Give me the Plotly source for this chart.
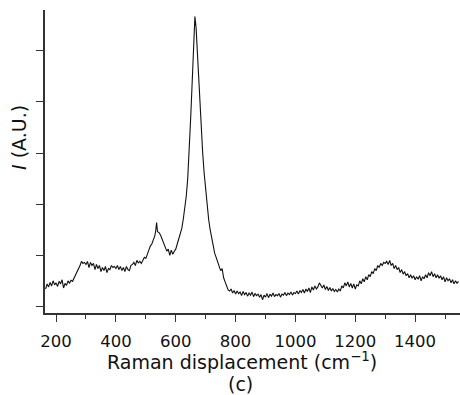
import plotly.graph_objects as go

raman_shift = [
    165, 170, 175, 180, 185, 190, 195, 200, 205, 210, 215, 220, 225, 230, 235, 240,
    245, 250, 255, 260, 265, 270, 275, 280, 285, 290, 295, 300, 305, 310, 315, 320,
    325, 330, 335, 340, 345, 350, 355, 360, 365, 370, 375, 380, 385, 390, 395, 400,
    405, 410, 415, 420, 425, 430, 435, 440, 445, 450, 455, 460, 465, 470, 475, 480,
    485, 490, 495, 500, 505, 510, 515, 520, 525, 530, 533, 536, 539, 545, 550, 555,
    560, 565, 570, 575, 580, 585, 590, 595, 600, 605, 610, 615, 620, 625, 630, 635,
    640, 645, 650, 655, 660, 664, 668, 672, 676, 680, 685, 690, 695, 700, 705, 710,
    715, 720, 725, 730, 735, 740, 745, 750, 755, 760, 765, 770, 775, 780, 785, 790,
    795, 800, 805, 810, 815, 820, 825, 830, 835, 840, 845, 850, 855, 860, 865, 870,
    875, 880, 885, 890, 895, 900, 905, 910, 915, 920, 925, 930, 935, 940, 945, 950,
    955, 960, 965, 970, 975, 980, 985, 990, 995, 1000, 1005, 1010, 1015, 1020, 1025, 1030,
    1035, 1040, 1045, 1050, 1055, 1060, 1065, 1070, 1075, 1080, 1085, 1090, 1095, 1100, 1105, 1110,
    1115, 1120, 1125, 1130, 1135, 1140, 1145, 1150, 1155, 1160, 1165, 1170, 1175, 1180, 1185, 1190,
    1195, 1200, 1205, 1210, 1215, 1220, 1225, 1230, 1235, 1240, 1245, 1250, 1255, 1260, 1265, 1270,
    1275, 1280, 1285, 1290, 1295, 1300, 1305, 1310, 1315, 1320, 1325, 1330, 1335, 1340, 1345, 1350,
    1355, 1360, 1365, 1370, 1375, 1380, 1385, 1390, 1395, 1400, 1405, 1410, 1415, 1420, 1425, 1430,
    1435, 1440, 1445, 1450, 1455, 1460, 1465, 1470, 1475, 1480, 1485, 1490, 1495, 1500, 1505, 1510,
    1515, 1520, 1525, 1530, 1535, 1540, 1545,
]
intensity = [
    0.34, 0.44, 0.38, 0.47, 0.40, 0.50, 0.42, 0.46, 0.39, 0.49, 0.44, 0.52, 0.36, 0.45, 0.41, 0.50,
    0.45, 0.51, 0.49, 0.55, 0.60, 0.66, 0.72, 0.80, 0.88, 0.84, 0.86, 0.82, 0.88, 0.76, 0.86, 0.80,
    0.84, 0.72, 0.82, 0.74, 0.80, 0.68, 0.76, 0.70, 0.78, 0.66, 0.74, 0.72, 0.80, 0.76, 0.78, 0.74,
    0.80, 0.72, 0.78, 0.70, 0.76, 0.68, 0.78, 0.72, 0.70, 0.80, 0.82, 0.86, 0.80, 0.90, 0.85, 0.88,
    0.84, 0.92, 0.96, 0.94, 1.04, 1.10, 1.18, 1.22, 1.30, 1.38, 1.48, 1.64, 1.46, 1.44, 1.38, 1.30,
    1.22, 1.14, 1.08, 1.12, 1.00, 1.10, 1.02, 1.08, 1.12, 1.22, 1.32, 1.42, 1.52, 1.70, 1.90, 2.15,
    2.50, 3.00, 3.70, 4.40, 5.10, 5.67, 5.45, 5.00, 4.40, 3.90, 3.40, 3.00, 2.60, 2.25, 1.95, 1.70,
    1.50, 1.32, 1.16, 1.04, 0.96, 0.88, 0.80, 0.70, 0.74, 0.56, 0.48, 0.40, 0.32, 0.30, 0.34, 0.26,
    0.31, 0.24, 0.30, 0.25, 0.28, 0.21, 0.29, 0.23, 0.27, 0.20, 0.26, 0.22, 0.28, 0.19, 0.25, 0.21,
    0.24, 0.18, 0.23, 0.13, 0.22, 0.18, 0.25, 0.17, 0.24, 0.20, 0.26, 0.19, 0.23, 0.21, 0.25, 0.18,
    0.24, 0.22, 0.27, 0.21, 0.26, 0.23, 0.28, 0.22, 0.27, 0.25, 0.30, 0.24, 0.31, 0.27, 0.33, 0.26,
    0.34, 0.29, 0.36, 0.27, 0.38, 0.32, 0.40, 0.34, 0.38, 0.46, 0.40, 0.36, 0.42, 0.33, 0.39, 0.31,
    0.37, 0.30, 0.35, 0.29, 0.33, 0.28, 0.34, 0.30, 0.40, 0.36, 0.46, 0.40, 0.48, 0.38, 0.45, 0.36,
    0.44, 0.34, 0.42, 0.40, 0.50, 0.44, 0.54, 0.48, 0.58, 0.52, 0.62, 0.58, 0.68, 0.64, 0.74, 0.70,
    0.80, 0.76, 0.84, 0.80, 0.86, 0.84, 0.88, 0.82, 0.90, 0.80, 0.84, 0.74, 0.80, 0.72, 0.76, 0.66,
    0.72, 0.63, 0.68, 0.60, 0.64, 0.56, 0.62, 0.55, 0.60, 0.52, 0.58, 0.53, 0.60, 0.50, 0.58, 0.54,
    0.62, 0.56, 0.66, 0.60, 0.68, 0.58, 0.64, 0.56, 0.62, 0.55, 0.60, 0.52, 0.58, 0.48, 0.56, 0.50,
    0.54, 0.46, 0.52, 0.44, 0.50, 0.45, 0.49,
]

x_tick_vals = [200, 400, 600, 800, 1000, 1200, 1400]
x_tick_text = ["200", "400", "600", "800", "1000", "1200", "1400"]
y_tick_vals = [0, 1, 2, 3, 4, 5]

FONT = "DejaVu Sans"
AXIS_COLOR = "#333333"

fig = go.Figure()
fig.add_trace(go.Scatter(
    x=raman_shift, y=intensity, mode="lines",
    line=dict(color="#111111", width=1.1),
    showlegend=False, hoverinfo="skip",
))

fig.update_layout(
    width=460, height=395,
    margin=dict(l=45, r=0, t=10, b=82),
    paper_bgcolor="white", plot_bgcolor="white",
    font=dict(family=FONT, size=16, color="#111111"),
    xaxis=dict(
        range=[163, 1550],
        tickvals=x_tick_vals, ticktext=x_tick_text,
        ticks="outside", ticklen=7, tickwidth=1.3, tickcolor=AXIS_COLOR,
        ticklabelstandoff=5,
        showline=True, linecolor=AXIS_COLOR, linewidth=1.5,
        showgrid=False, zeroline=False,
        tickfont=dict(family=FONT, size=16.5, color="#111111"),
        minor=dict(dtick=100, tick0=0, ticks="outside", ticklen=4,
                   tickwidth=1.3, tickcolor=AXIS_COLOR, showgrid=False),
    ),
    yaxis=dict(
        range=[-0.13, 5.80],
        tickvals=y_tick_vals, showticklabels=False,
        ticks="outside", ticklen=7, tickwidth=1.3, tickcolor=AXIS_COLOR,
        showline=True, linecolor=AXIS_COLOR, linewidth=1.5,
        showgrid=False, zeroline=False,
    ),
)

# annotations positioned from pixel coordinates of the reference
pw = 460 - 45 - 0
ph = 395 - 10 - 82
def paper_pos(px, py):
    return (px - 45) / pw, (395 - 82 - py) / ph

labels = [
    ("Raman displacement (cm<sup>−1</sup>)", 242, 361, 0),
    ("(c)", 240, 384, 0),
    ("<i>I</i> (A.U.)", 19, 137, -90),
]
for text, px, py, ang in labels:
    xx, yy = paper_pos(px, py)
    fig.add_annotation(
        text=text, x=xx, y=yy, xref="paper", yref="paper",
        xanchor="center", yanchor="middle", textangle=ang, showarrow=False,
        font=dict(family=FONT, size=19, color="#111111"),
    )

fig.write_html("out.html")
